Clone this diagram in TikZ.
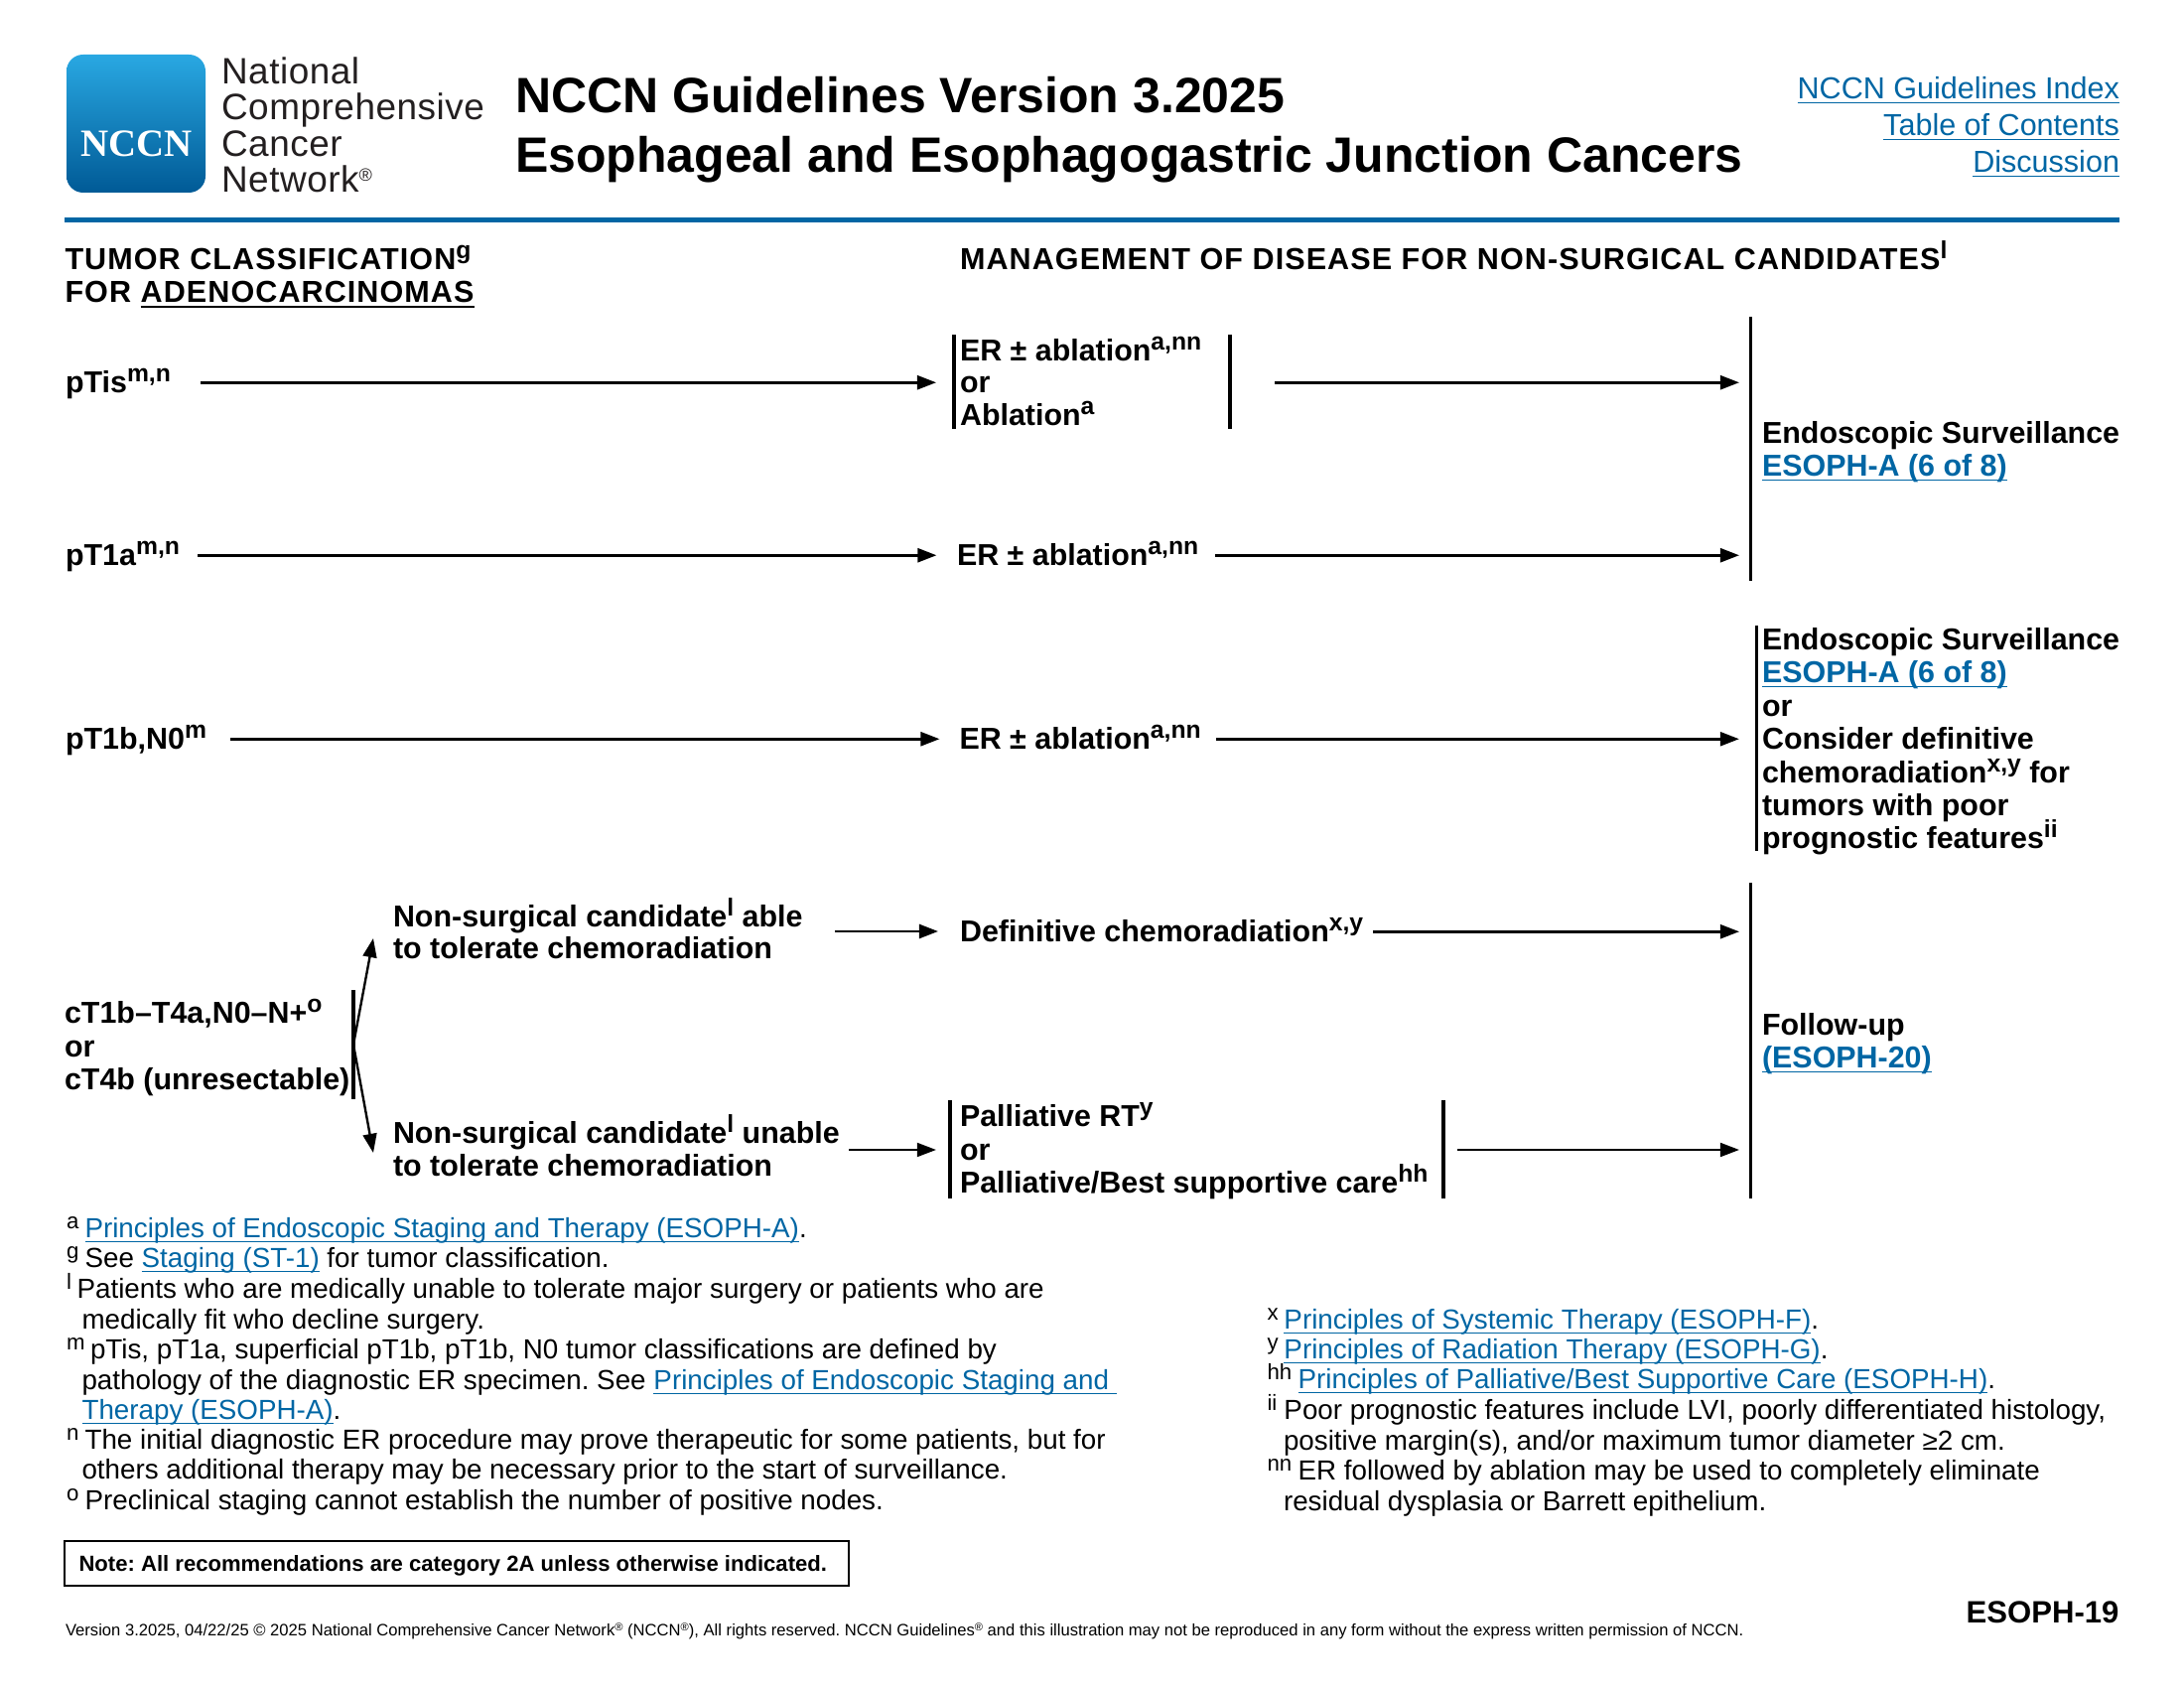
\documentclass[tikz,border=0pt]{standalone}
\usepackage{fontspec}
\setmainfont{Liberation Sans}
\newfontfamily\logoserif{Liberation Serif}
\usetikzlibrary{arrows.meta,calc}
\definecolor{nblue}{RGB}{0,102,164}
\definecolor{logotop}{RGB}{41,168,226}
\definecolor{logobot}{RGB}{0,90,150}
\definecolor{logotxt}{RGB}{35,31,32}
\AtBeginDocument{\frenchspacing}
\newsavebox\lnkbox
\newcommand\lnk[1]{\sbox\lnkbox{\textcolor{nblue}{#1}}\textcolor{nblue}{\rlap{\rule[-1.8pt]{\wd\lnkbox}{0.6pt}}}\usebox\lnkbox}
\newcommand\ulk[1]{\sbox\lnkbox{#1}\rlap{\rule[-2.0pt]{\wd\lnkbox}{0.7pt}}\usebox\lnkbox}
\newcommand\su[1]{\raisebox{4pt}{\fontsize{8.9}{8.9}\selectfont #1}}
\newcommand\fsup[2]{\makebox[#1pt][l]{\raisebox{3.2pt}{\fontsize{8}{8}\selectfont #2}}}
\newcommand\regm[2]{\raisebox{#1}{\fontsize{#2}{#2}\selectfont ®}}
\tikzset{
  x=0.36pt,y=-0.36pt,
  nudge/.style={xshift=-0.35pt,yshift=-0.45pt},
  tx/.style={nudge,anchor=base west,inner sep=0pt,outer sep=0pt,text height=7.2pt,text depth=0pt,
    font=\fontsize{10.95}{12}\selectfont\bfseries},
  hd/.style={tx,font=\fontsize{11}{12}\selectfont\bfseries\addfontfeature{LetterSpace=3.5}},
  fn/.style={nudge,anchor=base west,inner sep=0pt,outer sep=0pt,font=\fontsize{10}{11}\selectfont},
  toplink/.style={yshift=-0.45pt,anchor=base east,inner sep=0pt,outer sep=0pt,font=\fontsize{11}{13}\selectfont},
  ttl/.style={nudge,anchor=base west,inner sep=0pt,outer sep=0pt,font=\fontsize{18}{21.6}\selectfont\bfseries},
  logot/.style={nudge,anchor=base west,inner sep=0pt,outer sep=0pt,text=logotxt,font=\fontsize{13.3}{13.3}\selectfont\addfontfeature{LetterSpace=1.4}},
  vbar/.style={rectangle,fill=black,inner sep=0pt,outer sep=0pt,minimum width=1.1pt,minimum height=#1*0.36pt},
  arr/.style={-{Triangle[length=6.9pt,width=5pt]},line width=1.05pt,black},
  arrt/.style={arr,line width=0.85pt},
}
\begin{document}
\begin{tikzpicture}
\useasboundingbox (0,0) rectangle (2200,1700);
% logo
\shade[top color=logotop,bottom color=logobot,rounded corners=6pt] (67,55) rectangle (207,194);
\node[anchor=base,inner sep=0pt,text=white,font=\logoserif\bfseries\fontsize{14}{14}\selectfont] (logon) at (137.5,158) {NCCN};
\node[logot] (l1) at (224,83) {National};
\node[logot] (l2) at (224,119) {Comprehensive};
\node[logot] (l3) at (224,156) {Cancer};
\node[logot] (l4) at (224,192) {Network\regm{4pt}{6.5}};
% title
\node[ttl] (t1) at (520,112) {NCCN Guidelines Version 3.2025};
\node[ttl] (t2) at (520,172) {Esophageal and Esophagogastric Junction Cancers};
\node[toplink] (k1) at (2135,98) {\lnk{NCCN Guidelines Index}};
\node[toplink] (k2) at (2135,135) {\lnk{Table of Contents}};
\node[toplink] (k3) at (2135,172) {\lnk{Discussion}};
\draw[nblue,line width=1.8pt] (65,221.5) -- (2135,221.5);
% column heads
\node[hd] (h1) at (66.5,270) {TUMOR CLASSIFICATION\su{g}};
\node[hd] (h2) at (66.5,303) {FOR \ulk{ADENOCARCINOMAS}};
\node[hd] (h3) at (968,270) {MANAGEMENT OF DISEASE FOR NON-SURGICAL CANDIDATES\su{l}};
% bars
\node[vbar=95] (barL1) at (961,384.5) {};
\node[vbar=95] (barR1) at (1239,384.5) {};
\node[vbar=266] (big1) at (1763,452) {};
\node[vbar=227] (bar3) at (1769,743.5) {};
\node[vbar=318] (big2) at (1763,1048) {};
\node[vbar=99] (palL) at (957,1157.5) {};
\node[vbar=99] (palR) at (1454,1157.5) {};
\node[vbar=110] (fork) at (356,1052) {};
% left column
\node[tx] (ptis) at (67,394) {pTis\su{m,n}};
\node[tx] (pt1a) at (67,568) {pT1a\su{m,n}};
\node[tx] (pt1b) at (67,753) {pT1b,N0\su{m}};
\node[tx] (c1) at (66,1029) {cT1b–T4a,N0–N+\su{o}};
\node[tx] (c2) at (66,1063) {or};
\node[tx] (c3) at (66,1096) {cT4b (unresectable)};
\node[tx] (ns1a) at (397,932) {Non-surgical candidate\su{l} able};
\node[tx] (ns1b) at (397,964) {to tolerate chemoradiation};
\node[tx] (ns2a) at (397,1150) {Non-surgical candidate\su{l} unable};
\node[tx] (ns2b) at (397,1183) {to tolerate chemoradiation};
% middle column
\node[tx] (er1a) at (968,362) {ER ± ablation\su{a,nn}};
\node[tx] (er1b) at (968,394) {or};
\node[tx] (er1c) at (968,427) {Ablation\su{a}};
\node[tx] (er2) at (965,568) {ER ± ablation\su{a,nn}};
\node[tx] (er3) at (967.5,753) {ER ± ablation\su{a,nn}};
\node[tx] (def) at (968,947) {Definitive chemoradiation\su{x,y}};
\node[tx] (pa1) at (968,1133) {Palliative RT\su{y}};
\node[tx] (pa2) at (968,1167) {or};
\node[tx] (pa3) at (968,1200) {Palliative/Best supportive care\su{hh}};
% right column
\node[tx] (es1) at (1776,445) {Endoscopic Surveillance};
\node[tx] (es2) at (1776,478) {\lnk{ESOPH-A (6 of 8)}};
\node[tx] (s1) at (1776,653) {Endoscopic Surveillance};
\node[tx] (s2) at (1776,686) {\lnk{ESOPH-A (6 of 8)}};
\node[tx] (s3) at (1776,720) {or};
\node[tx] (s4) at (1776,753) {Consider definitive};
\node[tx] (s5) at (1776,787) {chemoradiation\su{x,y} for};
\node[tx] (s6) at (1776,820) {tumors with poor};
\node[tx] (s7) at (1776,853) {prognostic features\su{ii}};
\node[tx] (fu1) at (1776,1041) {Follow-up};
\node[tx] (fu2) at (1776,1074) {\lnk{(ESOPH-20)}};
% free connector ends
\coordinate (tipU) at (376,945);
\coordinate (tipD) at (376,1161);
\coordinate (ns1out) at (841,938);
\coordinate (ns2out) at (855,1158);
% connectors
\draw[arr,shorten <=10.8pt,shorten >=5.9pt] (ptis.east) -- (ptis.east -| barL1.west);
\draw[arr,shorten <=15.7pt,shorten >=3.4pt] (ptis.east -| barR1.east) -- (ptis.east -| big1.west);
\draw[arr,shorten <=6.5pt,shorten >=7.4pt] (pt1a.east) -- (pt1a.east -| er2.west);
\draw[arr,shorten <=6.1pt,shorten >=3.4pt] (er2.east) -- (er2.east -| big1.west);
\draw[arr,shorten <=8.6pt,shorten >=7.2pt] (pt1b.east) -- (pt1b.east -| er3.west);
\draw[arr,shorten <=5.4pt,shorten >=5.6pt] (er3.east) -- (er3.east -| bar3.west);
\draw[arrt] (fork.center) -- (tipU);
\draw[arrt] (fork.center) -- (tipD);
\draw[arr,shorten >=7.9pt] (ns1out) -- (ns1out -| def.west);
\draw[arr,shorten <=3.6pt,shorten >=3.4pt] (def.east) -- (def.east -| big2.west);
\draw[arrt,shorten >=4.5pt] (ns2out) -- (ns2out -| palL.west);
\draw[arrt,shorten <=4.5pt,shorten >=3.4pt] (ns2out -| palR.east) -- (ns2out -| big2.west);
% footnotes left
\node[fn] (fa) at (68,1245) {\fsup{6.66}{a}\lnk{Principles of Endoscopic Staging and Therapy (ESOPH-A)}.};
\node[fn] (fg) at (68,1275) {\fsup{6.66}{g}See \lnk{Staging (ST-1)} for tumor classification.};
\node[fn] (fl) at (68,1306) {\fsup{3.8}{l}Patients who are medically unable to tolerate major surgery or patients who are};
\node[fn] (fl2) at (83.5,1337) {medically fit who decline surgery.};
\node[fn] (fm) at (68,1367) {\fsup{8.64}{m}pTis, pT1a, superficial pT1b, pT1b, N0 tumor classifications are defined by};
\node[fn] (fm2) at (83.5,1398) {pathology of the diagnostic ER specimen. See \lnk{Principles of Endoscopic Staging and\ }};
\node[fn] (fm3) at (83.5,1428) {\lnk{Therapy (ESOPH-A)}.};
\node[fn] (fn1) at (68,1458) {\fsup{6.66}{n}The initial diagnostic ER procedure may prove therapeutic for some patients, but for};
\node[fn] (fn2) at (83.5,1488) {others additional therapy may be necessary prior to the start of surveillance.};
\node[fn] (fo) at (68,1519) {\fsup{6.66}{o}Preclinical staging cannot establish the number of positive nodes.};
% footnotes right
\node[fn] (fx) at (1277.5,1337) {\fsup{6.1}{x}\lnk{Principles of Systemic Therapy (ESOPH-F)}.};
\node[fn] (fy) at (1277.5,1367) {\fsup{6.1}{y}\lnk{Principles of Radiation Therapy (ESOPH-G)}.};
\node[fn] (fh) at (1277.5,1397) {\fsup{11.2}{hh}\lnk{Principles of Palliative/Best Supportive Care (ESOPH-H)}.};
\node[fn] (fi) at (1277.5,1428) {\fsup{6.1}{ii}Poor prognostic features include LVI, poorly differentiated histology,};
\node[fn] (fi2) at (1294,1459) {positive margin(s), and/or maximum tumor diameter ≥2 cm.};
\node[fn] (fnn) at (1277.5,1489) {\fsup{11.2}{nn}ER followed by ablation may be used to completely eliminate};
\node[fn] (fnn2) at (1294,1520) {residual dysplasia or Barrett epithelium.};
% note and footer
\draw[line width=1pt] (65,1552) rectangle (855,1597);
\node[anchor=base west,inner sep=0pt,font=\fontsize{7.95}{10}\selectfont\bfseries] (note) at (79,1582) {Note: All recommendations are category 2A unless otherwise indicated.};
\node[anchor=base west,inner sep=0pt,font=\fontsize{5.98}{8}\selectfont] (copy) at (65.5,1647) {Version 3.2025, 04/22/25 © 2025 National Comprehensive Cancer Network\regm{1.6pt}{4} (NCCN\regm{1.6pt}{4}), All rights reserved. NCCN Guidelines\regm{1.6pt}{4} and this illustration may not be reproduced in any form without the express written permission of NCCN.};
\node[anchor=base east,inner sep=0pt,font=\fontsize{11.2}{12}\selectfont\bfseries] (pg) at (2135,1634) {ESOPH-19};
\end{tikzpicture}
\end{document}
